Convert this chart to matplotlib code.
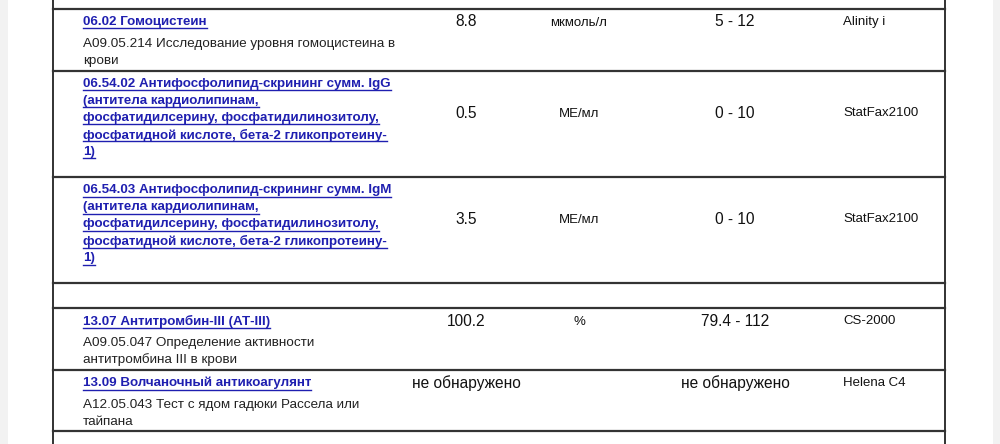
import matplotlib
matplotlib.use("Agg")
import matplotlib.pyplot as plt

plt.rcParams['font.family'] = ['Liberation Sans', 'DejaVu Sans']

# table contents
titles = [
    ["06.02 Гомоцистеин"],
    ["06.54.02 Антифосфолипид-скрининг сумм. IgG", "(антитела кардиолипинам,",
     "фосфатидилсерину, фосфатидилинозитолу,", "фосфатидной кислоте, бета-2 гликопротеину-", "1)"],
    ["06.54.03 Антифосфолипид-скрининг сумм. IgM", "(антитела кардиолипинам,",
     "фосфатидилсерину, фосфатидилинозитолу,", "фосфатидной кислоте, бета-2 гликопротеину-", "1)"],
    [],
    ["13.07 Антитромбин-III (АТ-III)"],
    ["13.09 Волчаночный антикоагулянт"],
]
subtitles = [
    ["A09.05.214 Исследование уровня гомоцистеина в", "крови"],
    [], [], [],
    ["A09.05.047 Определение активности", "антитромбина III в крови"],
    ["A12.05.043 Тест с ядом гадюки Рассела или", "тайпана"],
]
results = ["8.8", "0.5", "3.5", "", "100.2", "не обнаружено"]
units = ["мкмоль/л", "МЕ/мл", "МЕ/мл", "", "%", ""]
ranges = ["5 - 12", "0 - 10", "0 - 10", "", "79.4 - 112", "не обнаружено"]
devices = ["Alinity i", "StatFax2100", "StatFax2100", "", "CS-2000", "Helena C4"]

row_lines = [9, 71, 177, 283, 308, 370, 431]
value_y = [22, 113, 219, None, 321, 383]

fig = plt.figure(figsize=(10, 4.44), dpi=100)
ax = fig.add_axes([0, 0, 1, 1])
ax.set_xlim(0, 1000)
ax.set_ylim(444, 0)
ax.axis('off')

# page edges
ax.axvspan(0, 8, color='#f2f2f2', lw=0)
ax.axvspan(993, 1000, color='#f2f2f2', lw=0)

left, right = 53, 945
ax.plot([left, left], [0, 444], color='#222222', lw=1.3)
ax.plot([right, right], [0, 444], color='#222222', lw=1.3)
for y in row_lines:
    ax.plot([left, right], [y, y], color='#333333', lw=1.6)

link = '#1f1fb0'
title_texts = []
for i, top in enumerate(row_lines[:-1]):
    y = top + 13
    for line in titles[i]:
        t = ax.text(83, y, line, fontsize=9.6, fontweight='bold', color=link,
                    va='center', ha='left')
        title_texts.append((t, y))
        y += 17
    if titles[i]:
        y += 5
    for line in subtitles[i]:
        ax.text(83, y, line, fontsize=9.7, color='#222222', va='center', ha='left')
        y += 17
    if value_y[i] is None:
        continue
    vy = value_y[i]
    ax.text(466, vy, results[i], fontsize=11.2, color='#111111', ha='center', va='center')
    ax.text(579, vy + 1, units[i], fontsize=9.5, color='#111111', ha='center', va='center')
    ax.text(735, vy, ranges[i], fontsize=11.2, color='#111111', ha='center', va='center')
    ax.text(843, vy, devices[i], fontsize=9.5, color='#111111', ha='left', va='center')

# underline link titles
fig.canvas.draw()
r = fig.canvas.get_renderer()
inv = ax.transData.inverted()
for t, y in title_texts:
    bb = t.get_window_extent(renderer=r)
    x0, _ = inv.transform((bb.x0, bb.y0))
    x1, _ = inv.transform((bb.x1, bb.y0))
    ax.plot([x0, x1], [y + 6.5, y + 6.5], color=link, lw=1)

fig.savefig('out.png', dpi=100)
